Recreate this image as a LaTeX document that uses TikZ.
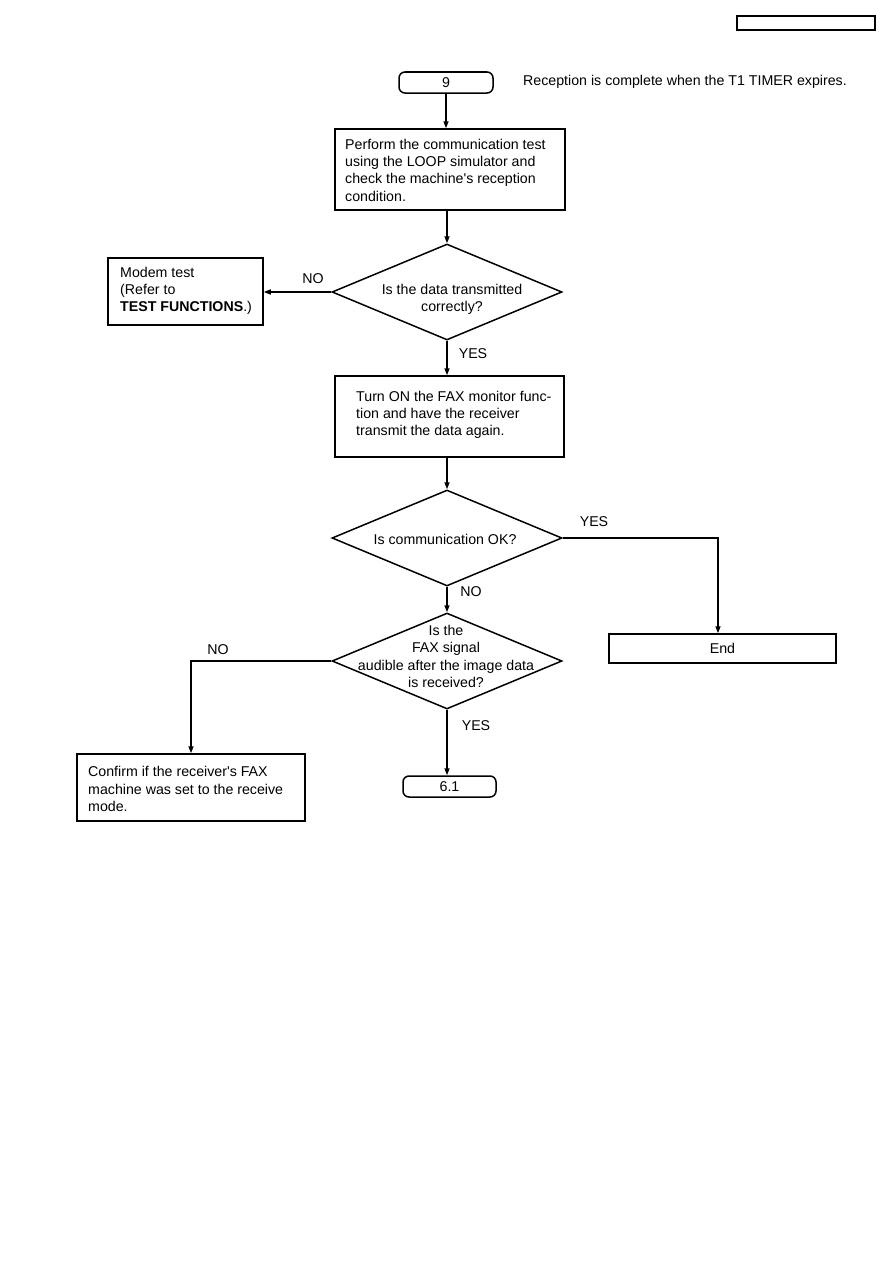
\documentclass[tikz,border=0pt]{standalone}
\usepackage{fontspec}
\setmainfont{Liberation Sans}
\usetikzlibrary{shapes.geometric,arrows.meta}
\begin{document}
\begin{tikzpicture}[x=1pt,y=-1pt,
  every node/.append style={font=\fontsize{14.2}{17.3}\selectfont, inner sep=0pt},
  box/.style={draw, line width=1.5pt, rectangle},
  term/.style={draw, line width=1.5pt, rectangle, rounded corners=6pt},
  dia/.style={draw, line width=1.5pt, diamond, aspect=2.4, minimum width=230pt, minimum height=96pt},
  txt/.style={align=left, anchor=west},
  ctxt/.style={align=center},
  arr/.style={line width=1.4pt, -{Triangle[length=7pt,width=5pt]}},
  lab/.style={}]
\useasboundingbox (0,0) rectangle (893,1263);
% header box
\node[draw, line width=1.3pt, minimum width=138pt, minimum height=14pt] (hdr) at (806,23) {};
% start
\node[term, minimum width=94pt, minimum height=21pt] (t9) at (446,82.5) {9};
\node[txt] (note) at (523,82) {Reception is complete when the T1 TIMER expires.};
% box1
\node[box, minimum width=230pt, minimum height=81pt] (b1) at (450,169.5) {};
\node[txt] (b1t) at (345,170) {Perform the communication test\\using the LOOP simulator and\\check the machine\textquotesingle s reception\\condition.};
% diamond 1
\node[dia] (d1) at (447,292) {};
\node[ctxt] (d1t) at (452,299.5) {Is the data transmitted\\correctly?};
% modem box
\node[box, minimum width=155pt, minimum height=67pt] (m) at (185.5,291.5) {};
\node[txt] (mt) at (120,291) {Modem test\\(Refer to\\\textbf{TEST FUNCTIONS}.)};
% box2
\node[box, minimum width=229pt, minimum height=81pt] (b2) at (449.5,416.5) {};
\node[txt] (b2t) at (356,415) {Turn ON the FAX monitor func-\\tion and have the receiver\\transmit the data again.};
% diamond 2
\node[dia] (d2) at (447,538) {};
\node[ctxt] (d2t) at (445,539) {Is communication OK?};
% end box
\node[box, minimum width=227pt, minimum height=29pt] (end) at (722.5,648.5) {End};
% diamond 3
\node[dia] (d3) at (447,661) {};
\node[ctxt] (d3t) at (446,656.5) {Is the\\FAX signal\\audible after the image data\\is received?};
% box3
\node[box, minimum width=228pt, minimum height=67pt] (b3) at (191,787.5) {};
\node[txt] (b3t) at (88,789) {Confirm if the receiver\textquotesingle s FAX\\machine was set to the receive\\mode.};
% terminal 6.1
\node[term, minimum width=93pt, minimum height=21pt] (t61) at (449.5,786.5) {6.1};
% corner coordinates
\coordinate (c1) at (718,538);
\coordinate (c2) at (b3.north |- d3.west);
% connectors
\draw[arr] (t9.south) -- (t9.south |- b1.north);
\draw[arr] (d1.north |- b1.south) -- (d1.north);
\draw[arr] (d1.west) -- (d1.west -| m.east);
\draw[arr] (d1.south) -- (d1.south |- b2.north);
\draw[arr] (d2.north |- b2.south) -- (d2.north);
\draw[arr] (d2.east) -- (c1) -- (c1 |- end.north);
\draw[arr] (d2.south) -- (d3.north);
\draw[arr] (d3.west) -- (c2) -- (b3.north);
\draw[arr] (d3.south) -- (d3.south |- t61.north);
% labels
\node[lab] (l1) at (313,279) {NO};
\node[lab] (l2) at (473,354) {YES};
\node[lab] (l3) at (594,522) {YES};
\node[lab] (l4) at (471,592) {NO};
\node[lab] (l5) at (218,650) {NO};
\node[lab] (l6) at (476,726) {YES};
\end{tikzpicture}
\end{document}
